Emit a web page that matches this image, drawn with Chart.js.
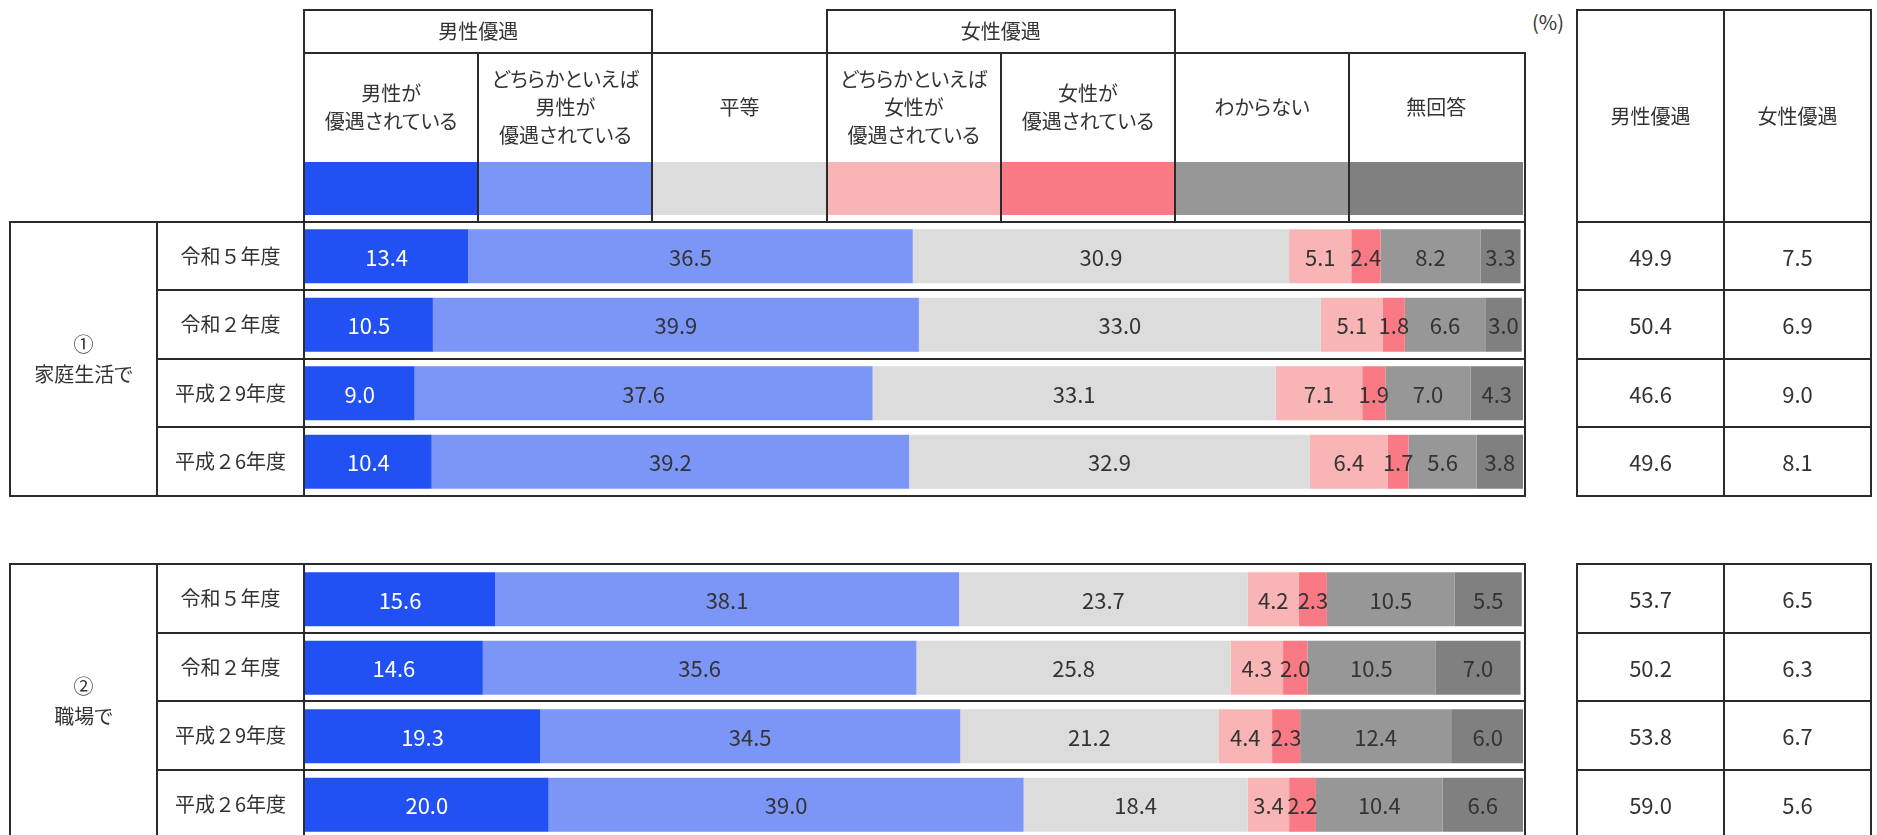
<!DOCTYPE html>
<html lang="ja">
<head>
<meta charset="utf-8">
<script src="https://cdn.jsdelivr.net/npm/chart.js@4"></script>
<style>
  html, body { margin:0; padding:0; background:#fff; }
  #page { position:relative; width:1877px; height:835px; overflow:hidden; background:#fff;
          font-family:"Noto Sans CJK JP", "Noto Sans", sans-serif; color:#333; }
  .ln { position:absolute; background:#2b2b2b; z-index:5; }
  .txt { position:absolute; display:flex; align-items:center; justify-content:center;
         text-align:center; font-size:20px; line-height:28px; z-index:6; white-space:nowrap; }
  .pl { font-feature-settings:"palt"; }
  .num { font-size:22px; }
  .sec { line-height:30px; }
  .sw { position:absolute; z-index:2; }
  canvas { position:absolute; z-index:3; }
</style>
</head>
<body>
<div id="page">
  <canvas id="c1" width="1218" height="274" style="left:305px; top:222px; width:1218px; height:274px;"></canvas>
  <canvas id="c2" width="1218" height="274" style="left:305px; top:565px; width:1218px; height:274px;"></canvas>
</div>
<script>
// ---------- data ----------
const years = ['令和５年度', '令和２年度', '平成２9年度', '平成２6年度'];
const sections = ['①<br>家庭生活で', '②<br>職場で'];
const segmentLabels = [
  '男性が<br>優遇されている',
  'どちらかといえば<br>男性が<br>優遇されている',
  '平等',
  'どちらかといえば<br>女性が<br>優遇されている',
  '女性が<br>優遇されている',
  'わからない',
  '無回答'
];
const groupLabels = ['男性優遇', '女性優遇'];
const totalLabels = ['男性優遇', '女性優遇'];

// 家庭生活で
const homeMaleStrong     = [13.4, 10.5,  9.0, 10.4];
const homeMaleSomewhat   = [36.5, 39.9, 37.6, 39.2];
const homeEqual          = [30.9, 33.0, 33.1, 32.9];
const homeFemaleSomewhat = [ 5.1,  5.1,  7.1,  6.4];
const homeFemaleStrong   = [ 2.4,  1.8,  1.9,  1.7];
const homeUnknown        = [ 8.2,  6.6,  7.0,  5.6];
const homeNoAnswer       = [ 3.3,  3.0,  4.3,  3.8];
const homeMaleTotal      = [49.9, 50.4, 46.6, 49.6];
const homeFemaleTotal    = [ 7.5,  6.9,  9.0,  8.1];

// 職場で
const workMaleStrong     = [15.6, 14.6, 19.3, 20.0];
const workMaleSomewhat   = [38.1, 35.6, 34.5, 39.0];
const workEqual          = [23.7, 25.8, 21.2, 18.4];
const workFemaleSomewhat = [ 4.2,  4.3,  4.4,  3.4];
const workFemaleStrong   = [ 2.3,  2.0,  2.3,  2.2];
const workUnknown        = [10.5, 10.5, 12.4, 10.4];
const workNoAnswer       = [ 5.5,  7.0,  6.0,  6.6];
const workMaleTotal      = [53.7, 50.2, 53.8, 59.0];
const workFemaleTotal    = [ 6.5,  6.3,  6.7,  5.6];

// ---------- styles ----------
const colors = ['#2151F2', '#7B96F7', '#DCDCDC', '#F9B4B5', '#F97A84', '#979797', '#808080'];
const labelColors = ['#ffffff', '#333333', '#333333', '#333333', '#333333', '#333333', '#333333'];

// ---------- layout helpers ----------
const page = document.getElementById('page');
function H(x1, x2, y) {
  const d = document.createElement('div'); d.className = 'ln';
  d.style.left = (x1 - 1) + 'px'; d.style.top = (y - 1) + 'px';
  d.style.width = (x2 - x1 + 2) + 'px'; d.style.height = '2px';
  page.appendChild(d);
}
function V(x, y1, y2) {
  const d = document.createElement('div'); d.className = 'ln';
  d.style.left = (x - 1) + 'px'; d.style.top = (y1 - 1) + 'px';
  d.style.width = '2px'; d.style.height = (y2 - y1 + 2) + 'px';
  page.appendChild(d);
}
function T(x, y, w, h, html, cls) {
  const d = document.createElement('div'); d.className = 'txt' + (cls ? ' ' + cls : '');
  d.style.left = x + 'px'; d.style.top = y + 'px';
  d.style.width = w + 'px'; d.style.height = h + 'px';
  d.innerHTML = html;
  page.appendChild(d);
  return d;
}

const X0 = 304, COLW = 174.2, XR = 1525;
const TL = 9.8, TC = 157;              // left table
const RL = 1577, RC = 1724, RR = 1871; // right table
const YT = 9.5, YH = 52.7, YB = 221.5, PITCH = 68.5;
const SEC = [221.5, 564];
const colX = k => X0 + k * COLW;

// header boxes
H(colX(0), colX(2), YT); V(colX(2), YT, YB);
H(colX(3), colX(5), YT); V(colX(3), YT, YB); V(colX(5), YT, YB);
H(X0, XR, YH);
[1, 4, 6].forEach(k => V(colX(k), YH, YB));
T(colX(0), YT, 2 * COLW, YH - YT, groupLabels[0]);
T(colX(3), YT, 2 * COLW, YH - YT, groupLabels[1]);
segmentLabels.forEach((s, k) => T(colX(k), YH + 1, COLW, 106, s, 'pl'));
// swatches
colors.forEach((c, k) => {
  const d = document.createElement('div'); d.className = 'sw';
  const x1 = colX(k) + 1, x2 = (k === 6) ? 1523 : colX(k + 1);
  d.style.left = x1 + 'px'; d.style.top = '162px';
  d.style.width = (x2 - x1) + 'px'; d.style.height = '53px';
  d.style.background = c;
  page.appendChild(d);
});
// (%)
T(1527, 9, 42, 26, '(%)');
// right table header
H(RL, RR, YT); V(RL, YT, YB); V(RC, YT, YB); V(RR, YT, YB);
T(RL, YT, RC - RL, YB - YT, totalLabels[0]);
T(RC, YT, RR - RC, YB - YT, totalLabels[1]);

// sections
const maleTotals = [homeMaleTotal, workMaleTotal];
const femaleTotals = [homeFemaleTotal, workFemaleTotal];
SEC.forEach((top, s) => {
  const bot = top + 4 * PITCH;
  const end = Math.min(bot, 840);
  H(TL, XR, top); H(RL, RR, top);
  if (bot < 835) { H(TL, XR, bot); H(RL, RR, bot); }
  V(TL, top, end); V(TC, top, end); V(X0, s === 0 ? YT : top, end); V(XR, s === 0 ? YH : top, end);
  V(RL, top, end); V(RC, top, end); V(RR, top, end);
  for (let r = 1; r < 4; r++) { H(TC, XR, top + r * PITCH); H(RL, RR, top + r * PITCH); }
  T(TL, top, TC - TL, 4 * PITCH, sections[s], 'sec pl');
  years.forEach((y, r) => {
    T(TC, top + r * PITCH, X0 - TC, PITCH, y);
    T(RL, top + r * PITCH, RC - RL, PITCH, maleTotals[s][r].toFixed(1), 'num');
    T(RC, top + r * PITCH, RR - RC, PITCH, femaleTotals[s][r].toFixed(1), 'num');
  });
});

// ---------- charts ----------
const valueLabels = {
  id: 'valueLabels',
  afterDatasetsDraw(chart) {
    const ctx = chart.ctx;
    ctx.save();
    ctx.font = '22px "Noto Sans CJK JP", "Noto Sans", sans-serif';
    ctx.textAlign = 'center';
    ctx.textBaseline = 'middle';
    chart.data.datasets.forEach((ds, i) => {
      const meta = chart.getDatasetMeta(i);
      meta.data.forEach((el, j) => {
        const v = ds.data[j];
        if (v == null) return;
        ctx.fillStyle = labelColors[i];
        ctx.fillText(v.toFixed(1), (el.x + el.base) / 2, el.y + 1);
      });
    });
    ctx.restore();
  }
};

function makeChart(id, series) {
  new Chart(document.getElementById(id), {
    type: 'bar',
    data: {
      labels: years,
      datasets: series.map((d, i) => ({
        label: segmentLabels[i].replace(/<br>/g, ''),
        data: d,
        backgroundColor: colors[i],
        borderWidth: 0,
        barPercentage: 0.79,
        categoryPercentage: 1.0
      }))
    },
    options: {
      indexAxis: 'y',
      responsive: false,
      animation: false,
      layout: { padding: 0 },
      plugins: { legend: { display: false }, tooltip: { enabled: false } },
      scales: {
        x: { display: false, stacked: true, min: 0, max: 100 },
        y: { display: false, stacked: true }
      }
    },
    plugins: [valueLabels]
  });
}
makeChart('c1', [homeMaleStrong, homeMaleSomewhat, homeEqual, homeFemaleSomewhat, homeFemaleStrong, homeUnknown, homeNoAnswer]);
makeChart('c2', [workMaleStrong, workMaleSomewhat, workEqual, workFemaleSomewhat, workFemaleStrong, workUnknown, workNoAnswer]);
</script>
</body>
</html>
